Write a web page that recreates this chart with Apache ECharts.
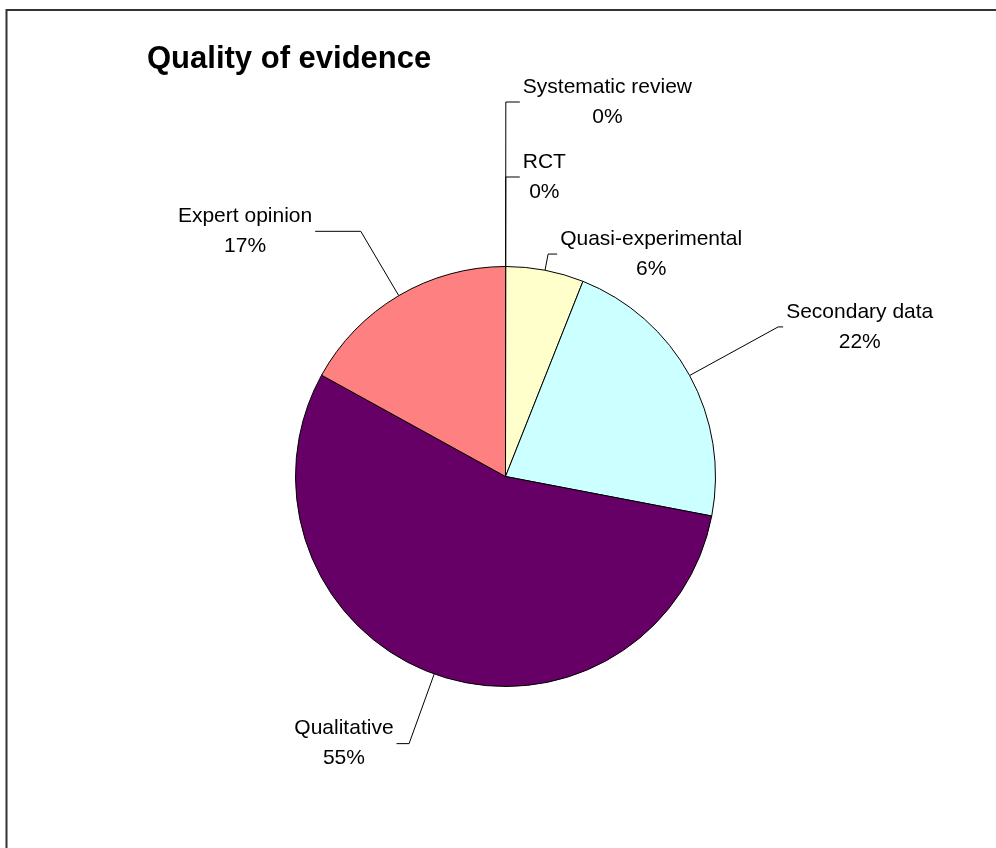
<!DOCTYPE html>
<html>
<head>
<meta charset="utf-8">
<script src="https://cdn.jsdelivr.net/npm/echarts@6/dist/echarts.min.js"></script>
<style>
  html, body { margin: 0; padding: 0; background: #ffffff; }
  #chart { width: 996px; height: 848px; }
</style>
</head>
<body>
<div id="chart"></div>
<script>
// Evidence categories, in clockwise order starting at 12 o'clock
const categories = ['Systematic review', 'RCT', 'Quasi-experimental', 'Secondary data', 'Qualitative', 'Expert opinion'];
// Share of items per category (%)
const shares = [0, 0, 6, 22, 55, 17];

// Slice fills (classic office palette)
const sliceColors = ['#9999FF', '#993366', '#FFFFCC', '#CCFFFF', '#660066', '#FF8080'];
// Leader line segments per slice: [radial length, horizontal length]
const leaderSegments = [[164.5, 14], [89.5, 14], [16.5, 9], [101, 5], [74, 12.5], [74.7, 45.6]];

const FONT = '"Liberation Sans", Arial, sans-serif';

const chart = echarts.init(document.getElementById('chart'), null, { renderer: 'canvas' });

const pieData = categories.map((name, i) => ({
  name: name,
  value: shares[i],
  itemStyle: { color: sliceColors[i] },
  labelLine: { length: leaderSegments[i][0], length2: leaderSegments[i][1] }
}));

chart.setOption({
  backgroundColor: '#ffffff',
  animation: false,
  title: {
    text: 'Quality of evidence',
    left: 147,
    top: 44,
    padding: 0,
    textStyle: { fontFamily: FONT, fontSize: 31, fontWeight: 'bold', color: '#000000' }
  },
  graphic: [{
    type: 'rect',
    shape: { x: 6.5, y: 10, width: 1200, height: 1000 },
    style: { fill: 'none', stroke: '#333333', lineWidth: 2 },
    silent: true
  }],
  series: [{
    type: 'pie',
    center: [505.5, 476.5],
    radius: 210,
    // a hair under 90 so the empty slices sit just right of 12 o'clock
    startAngle: 89.95,
    clockwise: true,
    avoidLabelOverlap: false,
    data: pieData,
    itemStyle: { borderColor: '#000000', borderWidth: 1 },
    label: {
      show: true,
      position: 'outside',
      distanceToLabelLine: 3,
      color: '#000000',
      fontFamily: FONT,
      fontSize: 21,
      formatter: '{n|{b}}\n{n|{c}%}',
      rich: {
        n: { align: 'center', fontFamily: FONT, fontSize: 21, lineHeight: 30, color: '#000000' }
      }
    },
    labelLine: {
      show: true,
      smooth: false,
      lineStyle: { color: '#000000', width: 1 }
    },
    emphasis: { disabled: true }
  }]
});
</script>
</body>
</html>
